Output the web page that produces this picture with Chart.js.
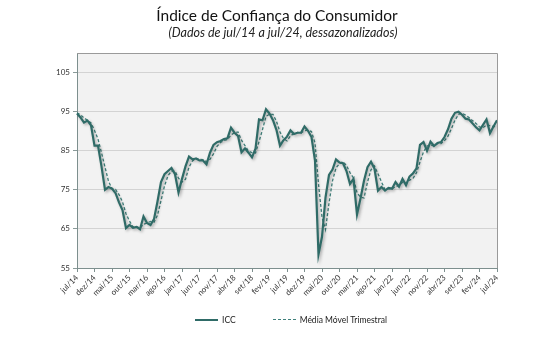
<!DOCTYPE html>
<html>
<head>
<meta charset="utf-8">
<script src="https://cdn.jsdelivr.net/npm/chart.js@4"></script>
<style>
  body { margin: 0; background: #fff; }
  #wrap { position: relative; width: 548px; height: 345px; }
  .title { position: absolute; left: 0; width: 548px; text-align: center; color: #111; font-family: Lato, 'Open Sans', sans-serif; }
  #t1 { top: 6px; font-size: 15.5px; left: 3px; }
  #t2 { top: 25px; font-size: 12.5px; font-style: italic; color: #222; left: 9px; }
  #legend { position: absolute; top: 314px; left: 195px; font: 8.5px Lato, sans-serif; color: #222; white-space: nowrap; }
  #legend span { display: inline-block; vertical-align: middle; }
  .sw { width: 23px; margin-right: 4px; }
</style>
</head>
<body>
<div id="wrap">
  <canvas id="icc" width="548" height="345"></canvas>
  <div class="title" id="t1">Índice de Confiança do Consumidor</div>
  <div class="title" id="t2">(Dados de jul/14 a jul/24, dessazonalizados)</div>
  <div id="legend"></div>
</div>
<script>
const monthNames = ['jan', 'fev', 'mar', 'abr', 'mai', 'jun', 'jul', 'ago', 'set', 'out', 'nov', 'dez'];

// eixo x mensal de jul/14 a jul/24
const categories = [];
for (let k = 6; k <= 6 + 120; k++) {
    categories.push(monthNames[k % 12] + '/' + (14 + Math.floor(k / 12)));
}

const tickLabels = ['jul/14', 'dez/14', 'mai/15', 'out/15', 'mar/16', 'ago/16', 'jan/17', 'jun/17',
    'nov/17', 'abr/18', 'set/18', 'fev/19', 'jul/19', 'dez/19', 'mai/20', 'out/20', 'mar/21',
    'ago/21', 'jan/22', 'jun/22', 'nov/22', 'abr/23', 'set/23', 'fev/24', 'jul/24'];

const yTicks = [55, 65, 75, 85, 95, 105];

const icc = [
    94.5, 93.5, 92.2, 92.7, 91.5, 86.3, 86.3, 81.0, 75.0, 75.7, 75.3, 74.2,
    71.8, 69.8, 65.2, 66.0, 65.3, 65.5, 64.9, 68.2, 66.5, 66.0, 67.5, 72.0,
    77.0, 79.0, 79.8, 80.6, 79.0, 74.3, 77.8, 81.0, 83.5, 82.8, 83.0, 82.5,
    82.5, 81.5, 84.5, 86.5, 87.2, 87.5, 88.0, 88.2, 90.9, 89.6, 88.8, 84.6,
    85.6, 84.5, 83.3, 85.5, 93.0, 92.8, 95.6, 94.5, 92.8, 90.3, 86.3, 87.7,
    88.6, 90.2, 89.3, 89.6, 89.6, 91.2, 90.1, 88.5, 82.5, 58.5, 63.0, 73.0,
    78.8, 80.2, 82.8, 82.0, 81.8, 79.8, 76.5, 77.8, 68.7, 72.8, 77.3, 80.8,
    82.2, 80.4, 74.8, 75.7, 74.8, 75.5, 75.3, 77.0, 75.8, 77.8, 76.2, 78.4,
    79.2, 80.5, 86.5, 87.2, 85.0, 87.3, 86.2, 87.0, 87.2, 88.5, 90.5, 93.2,
    94.7, 95.0, 94.2, 93.2, 93.0, 92.0, 91.0, 90.2, 91.6, 93.0, 89.5, 91.2,
    92.8
];

const mediaMovel = [
    94.7, 94.2, 93.4, 92.8, 92.1, 90.2, 88.0, 84.5, 80.8, 77.2, 75.3, 75.1,
    73.8, 71.9, 68.9, 67.0, 65.5, 65.6, 65.2, 66.2, 66.5, 66.9, 66.7, 68.5,
    72.2, 76.0, 78.6, 79.8, 79.8, 78.0, 77.0, 77.7, 80.8, 82.4, 83.1, 82.8,
    82.7, 82.2, 82.8, 84.2, 86.1, 87.1, 87.6, 87.9, 89.0, 89.6, 89.8, 87.7,
    86.3, 84.9, 84.5, 84.4, 87.3, 90.4, 93.8, 94.3, 94.3, 92.5, 89.8, 88.1,
    87.5, 88.8, 89.4, 89.7, 89.5, 90.1, 90.3, 89.9, 87.0, 76.5, 68.0, 64.8,
    71.6, 77.3, 80.6, 81.7, 82.2, 81.2, 79.4, 78.0, 74.3, 73.1, 72.9, 77.0,
    80.1, 81.1, 79.1, 77.0, 75.1, 75.3, 75.2, 75.9, 76.0, 76.9, 76.6, 77.5,
    77.9, 79.4, 82.1, 84.7, 86.2, 86.5, 86.2, 86.8, 86.8, 87.6, 88.7, 90.7,
    92.8, 94.3, 94.6, 94.1, 93.5, 92.7, 92.0, 91.1, 90.9, 91.6, 91.4, 91.2,
    91.2
];

const lineColor = '#2f6b67';
const dashColor = '#3f807b';

const plotArea = {
    id: 'plotArea',
    beforeDraw: (chart) => {
        const { ctx, chartArea: a } = chart;
        ctx.save();
        ctx.fillStyle = '#f2f2f2';
        ctx.fillRect(a.left, a.top, a.right - a.left, a.bottom - a.top);
        ctx.restore();
    },
    afterDraw: (chart) => {
        const { ctx, chartArea: a } = chart;
        ctx.save();
        ctx.strokeStyle = '#9a9a9a';
        ctx.lineWidth = 1;
        ctx.beginPath();
        ctx.moveTo(a.left, a.top + 0.5);
        ctx.lineTo(a.right + 0.5, a.top + 0.5);
        ctx.lineTo(a.right + 0.5, a.bottom);
        ctx.stroke();
        ctx.restore();
    },
    beforeDatasetDraw: (chart, args) => {
        if (args.index !== 0) return;
        const ctx = chart.ctx;
        ctx.save();
        ctx.shadowColor = 'rgba(0,0,0,0.3)';
        ctx.shadowBlur = 3;
        ctx.shadowOffsetX = 1.5;
        ctx.shadowOffsetY = 1.5;
    },
    afterDatasetDraw: (chart, args) => {
        if (args.index === 0) chart.ctx.restore();
    }
};

new Chart(document.getElementById('icc').getContext('2d'), {
    type: 'line',
    plugins: [plotArea],
    data: {
        labels: categories,
        datasets: [{
            label: 'ICC',
            data: icc,
            borderColor: lineColor,
            borderWidth: 2.2,
            pointRadius: 0,
            tension: 0
        }, {
            label: 'Média Móvel Trimestral',
            data: mediaMovel,
            borderColor: dashColor,
            borderWidth: 1.3,
            borderDash: [3, 2],
            pointRadius: 0,
            tension: 0
        }]
    },
    options: {
        responsive: false,
        animation: false,
        layout: { padding: { top: 53, right: 51, bottom: 37, left: 0 } },
        plugins: {
            legend: { display: false },
            tooltip: { enabled: false }
        },
        scales: {
            x: {
                offset: false,
                afterFit: (scale) => { scale.height = 40; },
                grid: {
                    drawOnChartArea: false,
                    tickLength: 4,
                    color: (c) => tickLabels.includes(categories[c.index]) ? '#7d8f8e' : 'rgba(0,0,0,0)'
                },
                border: { color: '#7d8f8e' },
                ticks: {
                    autoSkip: false,
                    maxRotation: 45,
                    minRotation: 45,
                    padding: 1,
                    color: '#333',
                    font: { family: 'Lato', size: 8 },
                    callback: function (value) {
                        const lab = this.getLabelForValue(value);
                        return tickLabels.includes(lab) ? lab : '';
                    }
                }
            },
            y: {
                min: 55,
                max: 110,
                afterFit: (scale) => { scale.width = 77; },
                afterBuildTicks: (scale) => {
                    scale.ticks = yTicks.map(v => ({ value: v }));
                },
                grid: { color: '#d3d3d3', tickColor: '#8a9a99', tickLength: 4 },
                border: { color: '#7d8f8e' },
                ticks: {
                    padding: 3,
                    color: '#333',
                    font: { family: 'Lato', size: 8 }
                }
            }
        }
    }
});

// legenda em HTML com as mesmas cores das séries
const legendItems = [
    { label: 'ICC', style: '2px solid ' + lineColor, gap: 37 },
    { label: 'Média Móvel Trimestral', style: '1.3px dashed ' + dashColor, gap: 0 }
];
document.getElementById('legend').innerHTML = legendItems.map(it =>
    '<span class="sw" style="border-top:' + it.style + '"></span>' +
    '<span style="margin-right:' + it.gap + 'px">' + it.label + '</span>'
).join('');
</script>
</body>
</html>
